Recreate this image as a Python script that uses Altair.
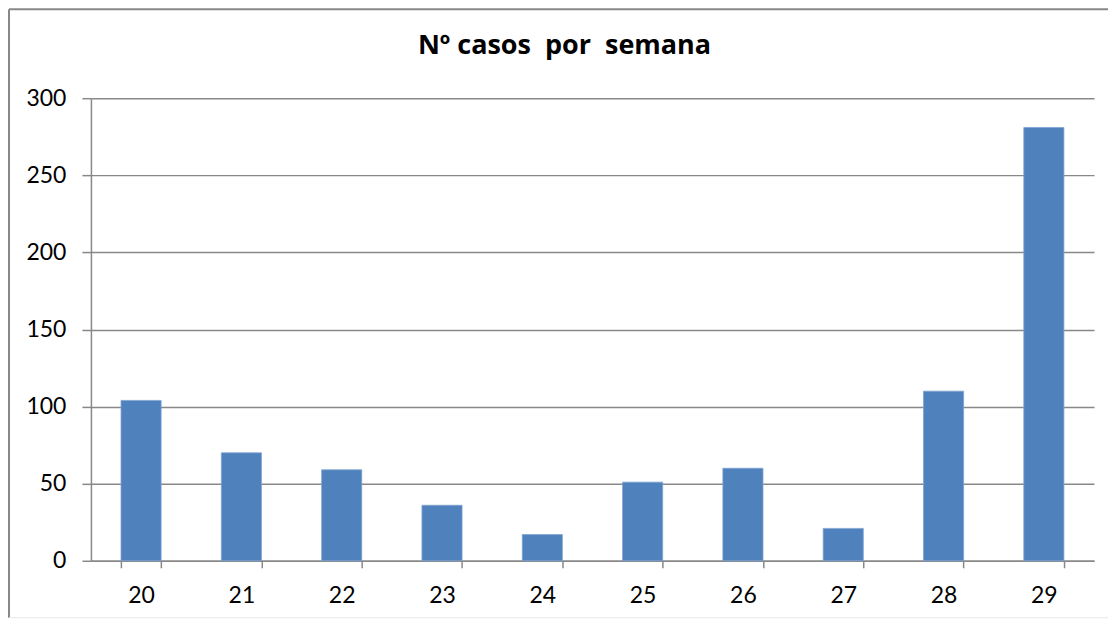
import altair as alt
import pandas as pd

weeks = ["20", "21", "22", "23", "24", "25", "26", "27", "28", "29"]
cases = [104, 70, 59, 36, 17, 51, 60, 21, 110, 281]
title_text = "Nº casos\u00a0 por\u00a0 semana"

df = pd.DataFrame({"week": weeks, "cases": cases})

FONT = "Lato"
GRAY = "#888888"

bars = alt.Chart(df).mark_bar(color="#4f81bd", stroke="#7fa3d1", strokeWidth=0.8).encode(
    x=alt.X("week:N", sort=weeks, title=None,
            scale=alt.Scale(paddingInner=0.6, paddingOuter=0.3),
            axis=alt.Axis(labelAngle=0, tickBand="extent", grid=False,
                          domainColor=GRAY, tickColor=GRAY, tickSize=7,
                          labelPadding=17, labelFontSize=23, labelFont=FONT,
                          labelColor="#000000", domainWidth=1.5, tickWidth=1.5)),
    y=alt.Y("cases:Q", title=None,
            scale=alt.Scale(domain=[0, 300], nice=False),
            axis=alt.Axis(values=[0, 50, 100, 150, 200, 250, 300], grid=True,
                          gridColor=GRAY, gridWidth=1.5, domainColor=GRAY,
                          domainWidth=1.5, tickColor=GRAY, tickWidth=1.5,
                          tickSize=9, labelPadding=16, labelFontSize=23,
                          labelFont=FONT, labelColor="#000000")),
)

one = alt.Data(values=[{"k": 1}])

title = alt.Chart(one).mark_text(
    text=title_text, font="Open Sans", fontSize=27, fontWeight="bold",
    color="#000000", align="center", baseline="alphabetic"
).encode(x=alt.value(474), y=alt.value(-44))

top_rule = alt.Chart(one).mark_rule(color=GRAY, strokeWidth=2).encode(
    x=alt.value(-82), x2=alt.value(1018), y=alt.value(-89))
left_rule = alt.Chart(one).mark_rule(color=GRAY, strokeWidth=2).encode(
    x=alt.value(-82), y=alt.value(-89), y2=alt.value(520))
bottom_rule = alt.Chart(one).mark_rule(color="#e8e8e8", strokeWidth=1).encode(
    x=alt.value(-82), x2=alt.value(1018), y=alt.value(520))

chart = alt.layer(bars, title, top_rule, left_rule, bottom_rule).properties(
    width=1004, height=463, padding=0, background="white"
).configure_view(stroke=None)

chart.save("out.html", embed_options={"renderer": "svg", "actions": False})
